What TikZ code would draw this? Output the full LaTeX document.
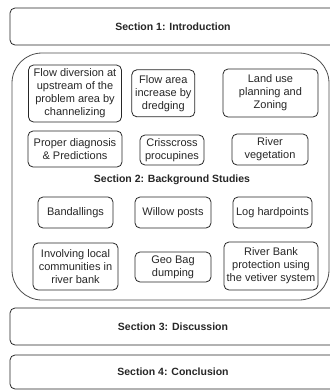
\documentclass[tikz,border=0pt]{standalone}
\usepackage{fontspec}
\setmainfont{Liberation Sans}
\begin{document}
\begin{tikzpicture}[x=1pt,y=-1pt,
 sect/.style={draw=black!85, line width=0.8pt, rounded corners=5pt, minimum width=326pt, minimum height=37pt, font=\fontsize{10.5}{12}\selectfont\bfseries, text=black!85, inner sep=0pt},
 item/.style={draw=black!85, line width=0.8pt, rounded corners=5pt, align=center, font=\fontsize{11}{13}\selectfont, text=black!85, inner sep=0pt},
 bigbox/.style={draw=black!70, line width=0.8pt, rounded corners=30pt, inner sep=0pt},
]
\useasboundingbox (0,0) rectangle (330,392);
\clip (0,0) rectangle (330,392);
\node[sect] (s1) at (173,26.5) {Section 1: Introduction};
\node[bigbox, minimum width=317pt, minimum height=247pt] (s2) at (170.5,176.5) {};
\node[font=\fontsize{10.5}{12}\selectfont\bfseries, text=black!85, inner sep=0pt] (s2label) at (172,180) {Section 2: Background Studies};

\node[item, minimum width=93pt, minimum height=57pt] (a) at (75,93.5) {Flow diversion at\\upstream of the\\problem area by\\channelizing};
\node[item, minimum width=63pt, minimum height=47pt] (b) at (163.3,93.3) {Flow area\\increase by\\dredging};
\node[item, minimum width=95pt, minimum height=48pt] (c) at (270.5,93) {Land use\\planning and\\Zoning};
\node[item, minimum width=94pt, minimum height=36pt] (d) at (75,149) {Proper diagnosis\\\& Predictions};
\node[item, minimum width=64pt, minimum height=30pt] (e) at (172,150) {Crisscross\\procupines};
\node[item, minimum width=76pt, minimum height=31pt] (f) at (270,149.5) {River\\vegetation};

\node[item, minimum width=75pt, minimum height=31pt] (g) at (75.5,212.5) {Bandallings};
\node[item, minimum width=76pt, minimum height=31pt] (h) at (173,212.5) {Willow posts};
\node[item, minimum width=79pt, minimum height=31pt] (i) at (272.5,212.5) {Log hardpoints};
\node[item, minimum width=85pt, minimum height=47pt] (j) at (75.5,266.5) {Involving local\\communities in\\river bank};
\node[item, minimum width=76pt, minimum height=30pt] (k) at (173,267) {Geo Bag\\dumping};
\node[item, minimum width=94pt, minimum height=48pt] (l) at (271,266) {River Bank\\protection using\\the vetiver system};

\node[sect] (s3) at (173,326.5) {Section 3: Discussion};
\node[sect, minimum height=34pt] (s4) at (173,372) {Section 4: Conclusion};
\end{tikzpicture}
\end{document}
